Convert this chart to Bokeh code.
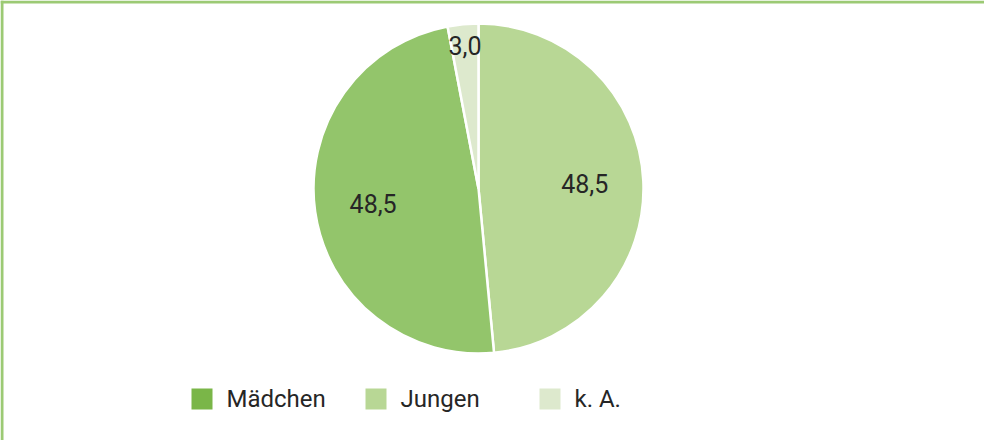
import math
from bokeh.plotting import figure
from bokeh.models import Range1d, Span, ColumnDataSource
from bokeh.core.properties import value
from bokeh.embed import file_html
from bokeh.resources import INLINE

# ---- data (legend order) ----
categories = ["Mädchen", "Jungen", "k. A."]
shares = [48.5, 48.5, 3.0]
labels = ["48,5", "48,5", "3,0"]
pie_colors = ["#93c56b", "#b8d795", "#dde9cd"]
legend_colors = ["#7ab648", "#b8d795", "#dde9cd"]
pie_order = [1, 0, 2]  # clockwise from 12 o'clock: Jungen, Mädchen, k. A.

W, H = 984, 440
CX, CY, R = 478, 252, 165
FONT = "Roboto"
TXT = "#262626"

p = figure(width=W, height=H, output_backend="svg", toolbar_location=None,
           x_range=Range1d(0, W), y_range=Range1d(0, H), min_border=0)
p.axis.visible = False
p.grid.visible = False
p.outline_line_color = None
p.background_fill_color = "white"
p.border_fill_color = "white"

# frame lines (top and left)
p.add_layout(Span(location=H - 1.5, dimension="width", line_color="#9cca74", line_width=3))
p.add_layout(Span(location=1.5, dimension="height", line_color="#9cca74", line_width=3))

# ---- pie ----
total = sum(shares)
starts, ends, cols, lx, ly, ltxt = [], [], [], [], [], []
cum = 0.0
for i in pie_order:
    a0 = cum / total * 2 * math.pi
    cum += shares[i]
    a1 = cum / total * 2 * math.pi
    starts.append(math.pi / 2 - a0)
    ends.append(math.pi / 2 - a1)
    cols.append(pie_colors[i])
    mid = (a0 + a1) / 2
    rr = R * (0.87 if shares[i] < 10 else 0.645)
    lx.append(CX + rr * math.sin(mid))
    ly.append(CY + rr * math.cos(mid))
    ltxt.append(labels[i])

src = ColumnDataSource(dict(start=starts, end=ends, color=cols))
p.wedge(x=CX, y=CY, radius=R, start_angle="start", end_angle="end",
        direction="clock", fill_color="color", line_color="white", line_width=2.5,
        source=src)

p.text(x=lx, y=ly, text=ltxt, text_align="center", text_baseline="middle",
       text_font=value(FONT), text_font_size="25px", text_color=TXT)

# ---- legend ----
sq_x = [201.5 + 174 * i for i in range(len(categories))]
sq_y = [41.5] * len(categories)
p.scatter(x=sq_x, y=sq_y, marker="square", size=21, fill_color=legend_colors,
          line_color=None)
p.text(x=[x + 24.5 for x in sq_x], y=sq_y, text=categories, text_align="left",
       text_baseline="middle", text_font=value(FONT), text_font_size="24px",
       text_color=TXT)

open("out.html", "w").write(file_html(p, INLINE))
